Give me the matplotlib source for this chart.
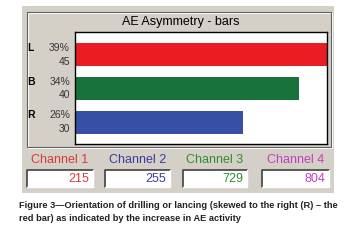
import matplotlib
matplotlib.use("Agg")
import matplotlib.pyplot as plt
from matplotlib.patches import Rectangle

# data
sides = ["L", "B", "R"]
percents = ["39%", "34%", "26%"]
values = [45, 40, 30]
bar_colors = ["#ec1c24", "#17733a", "#384fa6"]
channels = ["Channel 1", "Channel 2", "Channel 3", "Channel 4"]
counts = [215, 255, 729, 804]
chan_colors = ["#d83a3a", "#3c3c9c", "#2f8f2f", "#c040c0"]
caption = ("Figure 3\u2014Orientation of drilling or lancing (skewed to the right (R) \u2013 the\n"
           "red bar) as indicated by the increase in AE activity")

W, H = 354, 247
fig = plt.figure(figsize=(W / 100, H / 100), dpi=100)
fig.patch.set_facecolor("white")
plt.rcParams["font.family"] = ["Liberation Sans", "DejaVu Sans"]

# overlay in pixel coordinates for the window decoration
bg = fig.add_axes([0, 0, 1, 1], zorder=0)
bg.set_xlim(0, W)
bg.set_ylim(H, 0)
bg.axis("off")

gray = "#d4d0c8"
bg.add_patch(Rectangle((22, 6), 312, 187, facecolor=gray, edgecolor="none"))
# etched frame
bg.add_patch(Rectangle((28, 13), 304, 135, facecolor="none", edgecolor="white", lw=0.8))
bg.add_patch(Rectangle((27, 12), 304, 135, facecolor="none", edgecolor="#606060", lw=0.8))

bg.text(181, 22, "AE Asymmetry - bars", ha="center", va="center", fontsize=9, color="black")

# labels left of the bars
centers = [55, 88.5, 122]
for s, p, v, c in zip(sides, percents, values, centers):
    bg.text(27, c - 7, s, ha="left", va="center", fontsize=7.5, fontweight="bold")
    bg.text(70, c - 7, p, ha="right", va="center", fontsize=7.5, color="#333333")
    bg.text(70, c + 6.5, str(v), ha="right", va="center", fontsize=7.5, color="#333333")

# channel readouts
box_x = [27, 105, 183, 262]
box_w = [66, 65, 64, 67]
for name, n, col, x0, w in zip(channels, counts, chan_colors, box_x, box_w):
    bg.text(x0 + w / 2, 160, name, ha="center", va="center", fontsize=9, color=col)
    bg.add_patch(Rectangle((x0, 170), w, 17, facecolor="white", edgecolor="none"))
    bg.plot([x0, x0, x0 + w], [187, 170, 170], color="#404040", lw=1.2)
    bg.plot([x0, x0 + w, x0 + w], [187, 187, 170], color="white", lw=1)
    bg.text(x0 + w - 4, 179, str(n), ha="right", va="center", fontsize=9, color=col)

bg.text(19, 212, caption, ha="left", va="center", fontsize=6.7, fontweight="bold",
        linespacing=1.6, color="#222222")

# bar chart area
ax = fig.add_axes([75 / W, 1 - 144 / H, 252 / W, 112 / H], zorder=1)
ax.set_facecolor("white")
ypos = list(range(len(values)))
ax.barh(ypos, values, height=0.68, color=bar_colors)
ax.set_xlim(0, 45)
ax.set_ylim(2.64, -0.68)
ax.set_xticks([])
ax.set_yticks([])
for sp in ax.spines.values():
    sp.set_color("black")
    sp.set_linewidth(1)

fig.savefig("out.png", dpi=100)
